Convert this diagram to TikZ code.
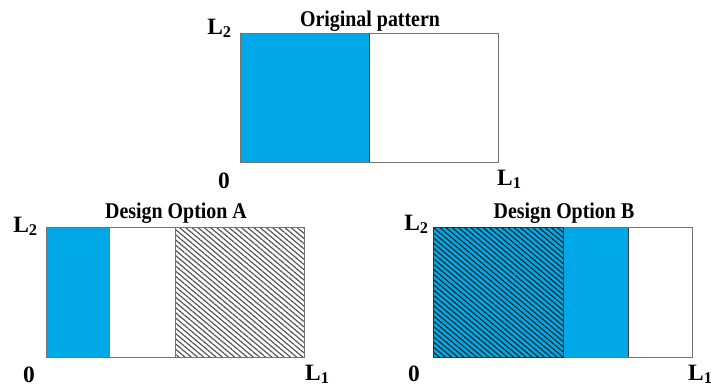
\documentclass[tikz,border=0pt]{standalone}
\usepackage{fontspec}
\setmainfont{Liberation Serif}
\usetikzlibrary{patterns.meta,positioning}
\definecolor{cellblue}{RGB}{0,168,232}
\newcommand{\vstretch}[1]{\scalebox{1}[1.13]{#1}}
\tikzset{
  paneltitle/.style={font=\bfseries\fontsize{17}{20}\selectfont,anchor=base,inner sep=0pt},
  endlabel/.style={font=\bfseries\fontsize{20}{24}\selectfont,inner sep=0pt},
  frame/.style={draw=black!55,line width=0.7pt},
  bluecell/.style={fill=cellblue,draw=black!75,line width=0.6pt},
  hatchcell/.style={pattern={Lines[angle=-40,distance=3.4pt,line width=1pt]},pattern color=#1},
  hatchcell/.default=black!70,
}

\begin{document}
\begin{tikzpicture}[x=0.03cm,y=-0.03cm]
\useasboundingbox (0,0) rectangle (711,389);

% original pattern
\draw[bluecell] (240,33) rectangle (369,162);
\draw[frame] (240,33) rectangle (498,162);
\node[paneltitle] (origT) at (370,26) {\vstretch{Original pattern}};
\node[endlabel,anchor=base east] (origL2) at (232,34) {L\textsubscript{2}};
\node[endlabel,anchor=base] (orig0) at (224,188) {0};
\node[endlabel,anchor=base west] (origL1) at (497,185) {L\textsubscript{1}};

% design option A
\draw[bluecell] (46,227) rectangle (110,357);
\fill[white] (110,227) rectangle (175,357);
\path[hatchcell=black!68] (175,227) rectangle (304,357);
\draw[frame] (46,227) rectangle (304,357);
\draw[frame] (175,227) -- (175,357);
\node[paneltitle] (optAT) at (176,218) {\vstretch{Design Option A}};
\node[endlabel,anchor=base east] (optAL2) at (38,232) {L\textsubscript{2}};
\node[endlabel,anchor=base] (optA0) at (29,382) {0};
\node[endlabel,anchor=base west] (optAL1) at (305,380) {L\textsubscript{1}};

% design option B
\fill[cellblue] (433,227) rectangle (563,357);
\path[hatchcell=black!85] (433,227) rectangle (563,357);
\draw[bluecell] (563,227) rectangle (628,357);
\draw[frame] (433,227) rectangle (692,357);
\draw[black!80,line width=0.6pt] (433,227) rectangle (563,357);
\node[paneltitle] (optBT) at (564,218) {\vstretch{Design Option B}};
\node[endlabel,anchor=base east] (optBL2) at (429,230) {L\textsubscript{2}};
\node[endlabel,anchor=base] (optB0) at (414,381) {0};
\node[endlabel,anchor=base west] (optBL1) at (688,380) {L\textsubscript{1}};
\end{tikzpicture}
\end{document}
